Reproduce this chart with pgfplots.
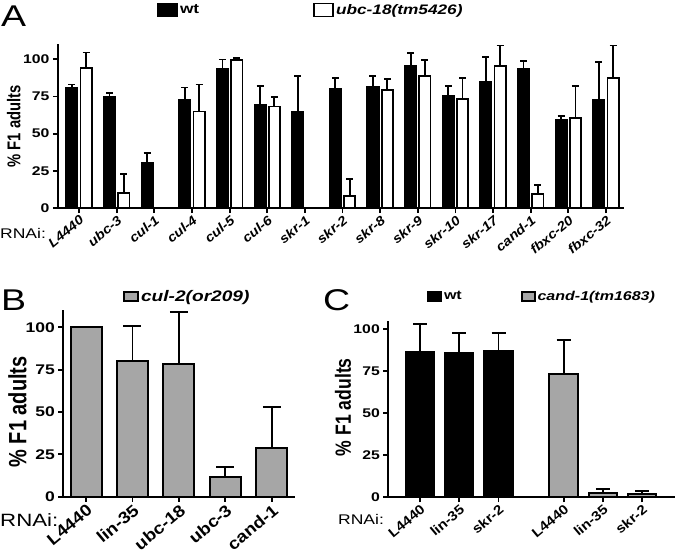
\documentclass[border=0pt]{standalone}
\usepackage{pgfplots}
\pgfplotsset{compat=1.18}
\usepackage{fontspec}
\setmainfont{Liberation Sans}[FakeStretch=1.25]
\newfontfamily\xlfont{Liberation Sans}[FakeStretch=1.13]
\newfontfamily\ylfont{Liberation Sans}[FakeStretch=0.8]
\definecolor{bargray}{RGB}{166,166,166}

\pgfplotsset{
  gp/.style={
    scale only axis, clip=false,
    axis lines*=left,
    axis line style={-, line width=2pt},
    ymin=0,
    ytick={0,25,50,75,100},
    tick align=outside,
    major tick length=5pt,
    every tick/.style={black, line width=1.8pt},
    /pgf/number format/assume math mode=true,
    ybar,
    legend style={draw=none, fill=none, inner sep=0pt, anchor=west},
    legend cell align=left,
  },
  gperr/.style={error bars/.cd, y dir=plus, y explicit,
    error bar style={line width=1.8pt, black},
    error mark options={rotate=90, line width=1.8pt, black, mark size=#1}},
}

\pgfplotstableread{
x  y     e
0  80.5  2.5
1  74.5  2.9
2  30.6  6.3
3  72.7  8.3
4  93.5  6.3
5  69.4  12.7
6  64.7  24.3
7  80.3  6.9
8  81.2  7.8
9  95.5  8.7
10 75.4  6.5
11 84.5  16.9
12 93.5  5.6
13 59.4  2.7
14 72.4  25.8
}\Awt

\pgfplotstableread{
x  y     e
0  94.4  10.1
1  10.0  12.8
3  64.9  18.1
4  99.3  1.7
5  68.2  6.3
7  8.3   11.4
8  79.4  7.4
9  88.8  10.8
10 73.4  13.8
11 95.3  13.9
12 9.4   6.1
13 60.3  21.7
14 87.2  22.0
}\Amut

\pgfplotstableread{
x  y     e
0  100.0 0
1  80.3  20.5
2  78.3  30.6
3  11.4  6.3
4  28.9  24.1
}\Bcul

\pgfplotstableread{
x  y     e
0  86.3  16.5
1  85.7  12.1
2  87.1  10.3
}\Cwt

\pgfplotstableread{
x     y     e
3.66  73.1  20.2
4.66  2.4   2.6
5.66  2.0   1.8
}\Ccand

\begin{document}
\begin{tikzpicture}
\useasboundingbox (0,0) rectangle (677pt,558pt);

% ---------------- Panel A ----------------
\begin{axis}[gp,
  at={(58pt,350pt)}, anchor=south west,
  width=566pt, height=163.6pt,
  xmin=-0.56, xmax=14.48, ymax=110,
  xtick={0,...,14},
  xticklabels={L4440,ubc-3,cul-1,cul-4,cul-5,cul-6,skr-1,skr-2,skr-8,skr-9,skr-10,skr-17,cand-1,fbxc-20,fbxc-32},
  xticklabel style={font=\xlfont\fontsize{13}{14}\selectfont\bfseries\itshape, rotate=40, anchor=north east, inner sep=1pt},
  yticklabel style={font=\fontsize{12.6}{14}\selectfont\bfseries},
  ylabel={\% F1 adults},
  ylabel style={font=\ylfont\fontsize{18.5}{20}\selectfont\bfseries, at={(axis description cs:-0.078,0.5)}, anchor=center},
  legend style={at={(0.175,1.21)}, font=\fontsize{13.8}{15}\selectfont\bfseries, /tikz/every even column/.append style={column sep=112pt}},
  legend columns=2,
  legend image code/.code={\draw[#1, line width=1.8pt] (0pt,-6.5pt) rectangle (19pt,6.5pt);},
]
\addplot[fill=black, draw=black, line width=1.8pt, bar width=0.30, bar shift=-0.19, gperr=3.5pt]
  table[x=x, y=y, y error=e] {\Awt};
\addplot[fill=white, draw=black, line width=1.8pt, bar width=0.30, bar shift=0.19, gperr=3.5pt]
  table[x=x, y=y, y error=e] {\Amut};
\legend{wt, \textit{ubc-18(tm5426)}}
\end{axis}

% ---------------- Panel B ----------------
\begin{axis}[gp,
  at={(63.3pt,61.3pt)}, anchor=south west,
  width=231.7pt, height=186.3pt,
  xmin=-0.49, xmax=4.5, ymax=110,
  xtick={0,...,4},
  xticklabels={L4440,lin-35,ubc-18,ubc-3,cand-1},
  xticklabel style={font=\xlfont\fontsize{16.5}{18}\selectfont\bfseries, rotate=40, anchor=north east, inner sep=1pt},
  yticklabel style={font=\fontsize{14}{16}\selectfont\bfseries},
  ylabel={\% F1 adults},
  ylabel style={font=\ylfont\fontsize{25}{27}\selectfont\bfseries, at={(axis description cs:-0.198,0.455)}, anchor=center},
  legend style={at={(0.258,1.075)}, font=\fontsize{15.3}{17}\selectfont\bfseries},
  legend image code/.code={\draw[#1, line width=1.8pt] (0pt,-4.5pt) rectangle (14pt,4.5pt);},
]
\addplot[fill=bargray, draw=black, line width=2pt, bar width=0.668, bar shift=0, gperr=9pt]
  table[x=x, y=y, y error=e] {\Bcul};
\legend{\textit{cul-2(or209)}}
\end{axis}

% ---------------- Panel C ----------------
\begin{axis}[gp,
  at={(388.3pt,60.7pt)}, anchor=south west,
  width=286.7pt, height=176.7pt,
  xmin=-0.81, xmax=6.5, ymax=105,
  xtick={0,1,2,3.66,4.66,5.66},
  xticklabels={L4440,lin-35,skr-2,L4440,lin-35,skr-2},
  xticklabel style={font=\xlfont\fontsize{13.4}{15}\selectfont\bfseries, rotate=40, anchor=north east, inner sep=1pt},
  yticklabel style={font=\fontsize{12.6}{14}\selectfont\bfseries},
  ylabel={\% F1 adults},
  ylabel style={font=\ylfont\fontsize{22}{24}\selectfont\bfseries, at={(axis description cs:-0.158,0.51)}, anchor=center},
  legend style={at={(0.135,1.136)}, font=\fontsize{12.8}{14}\selectfont\bfseries, /tikz/every even column/.append style={column sep=57pt}},
  legend columns=2,
  legend image code/.code={\draw[#1, line width=1.8pt] (0pt,-4.5pt) rectangle (13pt,4.5pt);},
]
\addplot[fill=black, draw=black, line width=2pt, bar width=0.72, bar shift=0, gperr=7pt]
  table[x=x, y=y, y error=e] {\Cwt};
\addplot[fill=bargray, draw=black, line width=2pt, bar width=0.72, bar shift=0, gperr=7pt]
  table[x=x, y=y, y error=e] {\Ccand};
\legend{wt, \textit{cand-1(tm1683)}}
\end{axis}

% ---------------- Panel letters and RNAi labels ----------------
\node[anchor=base west, inner sep=0pt, font=\fontsize{30}{30}\selectfont] at (1pt,531pt) {A};
\node[anchor=base west, inner sep=0pt, font=\fontsize{30}{30}\selectfont] at (1pt,248pt) {B};
\node[anchor=base west, inner sep=0pt, font=\fontsize{30}{30}\selectfont] at (323pt,248pt) {C};
\node[anchor=west, inner sep=0pt, font=\fontsize{14}{16}\selectfont] at (0pt,325pt) {RNAi:};
\node[anchor=west, inner sep=0pt, font=\fontsize{17.8}{19}\selectfont] at (0pt,38pt) {RNAi:};
\node[anchor=west, inner sep=0pt, font=\fontsize{14}{16}\selectfont] at (338pt,39pt) {RNAi:};
\end{tikzpicture}
\end{document}
